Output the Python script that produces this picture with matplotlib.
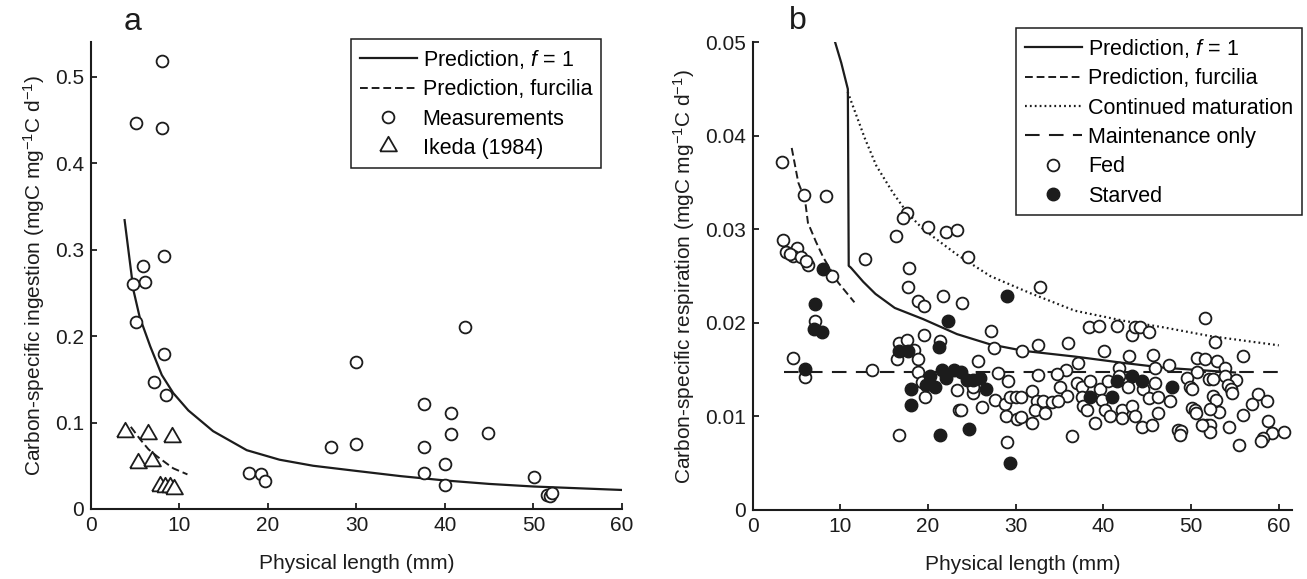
import matplotlib
matplotlib.use('Agg')
import matplotlib.pyplot as plt

plt.rcParams['font.family'] = ['Liberation Sans', 'DejaVu Sans']
plt.rcParams['mathtext.fontset'] = 'custom'
plt.rcParams['mathtext.rm'] = 'Liberation Sans'
plt.rcParams['mathtext.it'] = 'Liberation Sans:italic'
plt.rcParams['mathtext.bf'] = 'Liberation Sans:bold'

INK = '#1c1c1c'

# --- panel a: ingestion ---
pred_a_x = [3.8, 4.8, 5.5, 6.7, 8.0, 9.3, 11.0, 13.8, 17.6, 21.3, 25.1, 30.0, 35.0, 40.0, 45.0, 50.0, 55.0, 60.0]
pred_a_y = [0.334, 0.253, 0.222, 0.188, 0.155, 0.134, 0.114, 0.090, 0.068, 0.057, 0.050, 0.044, 0.038, 0.033, 0.029, 0.026, 0.024, 0.022]

furc_a_x = [4.5, 5.6, 6.5, 7.45, 8.5, 9.3, 10.9]
furc_a_y = [0.095, 0.080, 0.069, 0.061, 0.053, 0.047, 0.040]

meas_x = [8.0, 5.1, 8.0, 8.2, 5.9, 6.06, 4.75, 5.1, 8.2, 7.15, 8.5, 17.9, 19.2, 19.65,
          27.1, 30.0, 30.0, 37.6, 37.6, 37.6, 39.95, 39.95, 40.7, 40.7, 42.25, 44.9,
          50.05, 51.5, 51.9, 52.1]
meas_y = [0.518, 0.446, 0.440, 0.293, 0.281, 0.263, 0.260, 0.216, 0.179, 0.147, 0.132, 0.042, 0.040, 0.032,
          0.072, 0.075, 0.170, 0.1215, 0.072, 0.042, 0.052, 0.028, 0.1115, 0.087, 0.211, 0.088,
          0.0367, 0.0166, 0.0154, 0.0182]

ikeda_x = [3.8, 6.4, 9.2, 5.27, 6.9, 7.8, 8.4, 8.9, 9.4]
ikeda_y = [0.089, 0.087, 0.083, 0.053, 0.056, 0.027, 0.025, 0.025, 0.023]

# --- panel b: respiration ---
pred_b_x = [9.4, 10.1, 10.85, 10.95, 11.2, 12.6, 14.0, 16.2, 19.45, 23.3, 27.1, 31.0, 36.75, 42.45, 47.0, 50.2, 55.0]
pred_b_y = [0.0500, 0.0478, 0.0450, 0.0261, 0.0259, 0.0244, 0.0231, 0.0216, 0.0204, 0.0188, 0.0177, 0.0170, 0.0164, 0.0157, 0.0152, 0.0150, 0.0147]

furc_b_x = [4.45, 5.2, 5.96, 6.3, 7.2, 8.05, 9.76, 11.6]
furc_b_y = [0.0387, 0.0350, 0.0332, 0.0307, 0.0287, 0.0270, 0.0243, 0.0222]

matur_x = [10.83, 12.8, 14.1, 16.0, 17.6, 19.45, 23.3, 27.1, 31.6, 36.75, 42.45, 47.0, 52.1, 60.0]
matur_y = [0.0447, 0.0397, 0.0368, 0.0339, 0.0318, 0.0300, 0.0273, 0.0250, 0.0232, 0.0213, 0.0202, 0.0195, 0.0186, 0.0176]

maint_x = [3.6, 60.0]
maint_y = [0.0147, 0.0147]

fed_x = [3.3, 5.9, 8.36, 3.5, 3.76, 5.1, 4.6, 4.25, 5.5, 6.3, 6.1, 9.1, 12.8, 7.1, 4.6, 6.0, 13.6,
         17.56, 17.1, 16.34, 20.03, 22.1, 23.3, 24.6, 17.8, 17.75, 18.9, 19.5, 21.7, 23.9, 19.5,
         16.7, 17.6, 18.4, 21.4, 27.2, 27.5, 30.7, 16.5, 18.9, 25.7, 18.9, 19.3, 19.65, 23.3,
         25.1, 25.1, 28.0, 29.15, 27.6, 28.8, 29.3, 30.0, 30.55, 28.9, 30.1, 30.6, 23.5, 23.8,
         26.1, 16.7, 29.0,
         32.8, 38.3, 39.5, 41.6, 43.2, 43.6, 44.2, 45.2, 32.5, 36.0, 40.1, 42.9, 45.7, 37.05,
         35.7, 32.5, 34.7, 41.8, 45.9, 31.8, 35.0, 35.8, 37.0, 37.5, 38.5, 39.6, 39.8, 40.2,
         40.55, 37.5, 32.4, 33.1, 34.1, 34.85, 32.2, 33.3, 31.8, 37.7, 38.1, 39.0, 40.7, 42.1,
         42.1, 43.2, 43.6, 44.35, 45.5, 46.25, 44.5, 45.2, 45.9, 46.25, 36.4, 41.8, 42.8,
         51.6, 52.7, 55.9, 47.5, 50.7, 51.6, 52.9, 53.85, 50.7, 49.5, 52.0, 52.5, 53.85, 55.1,
         49.9, 50.05, 54.2, 54.6, 54.7, 47.6, 52.5, 52.8, 53.2, 52.1, 50.05, 50.4, 50.6, 57.65,
         58.6, 56.9, 55.9, 51.4, 51.76, 52.1, 52.2, 51.2, 48.5, 48.9, 48.7, 54.35, 58.8, 59.2,
         58.2, 58.0, 60.6, 55.5]
fed_y = [0.0372, 0.0337, 0.0336, 0.0289, 0.0276, 0.0280, 0.0272, 0.0274, 0.0270, 0.0262, 0.0266, 0.0250, 0.0268, 0.0202, 0.0162, 0.0142, 0.0150,
         0.0317, 0.0312, 0.0293, 0.0302, 0.0297, 0.0299, 0.0270, 0.0259, 0.0238, 0.0223, 0.0218, 0.0229, 0.0221, 0.0187,
         0.0178, 0.0182, 0.0171, 0.0181, 0.0191, 0.0173, 0.0170, 0.0161, 0.0161, 0.0159, 0.0147, 0.0137, 0.0121, 0.0128,
         0.0125, 0.0132, 0.0146, 0.0138, 0.0118, 0.0113, 0.0121, 0.0121, 0.0121, 0.0100, 0.0097, 0.0099, 0.0107, 0.0107,
         0.0110, 0.0080, 0.0073,
         0.0238, 0.0196, 0.0197, 0.0197, 0.0187, 0.0196, 0.0196, 0.0190, 0.0176, 0.0179, 0.0170, 0.0165, 0.0166, 0.0157,
         0.0150, 0.0144, 0.0145, 0.0152, 0.0152, 0.0127, 0.0131, 0.0122, 0.0136, 0.0132, 0.0138, 0.0129, 0.0118, 0.0107,
         0.0138, 0.0121, 0.0116, 0.0116, 0.0115, 0.0116, 0.0107, 0.0104, 0.0093, 0.0111, 0.0107, 0.0093, 0.0100, 0.0107,
         0.0098, 0.0111, 0.0100, 0.0089, 0.0091, 0.0104, 0.0129, 0.0120, 0.0136, 0.0121, 0.0079, 0.0143, 0.0132,
         0.0205, 0.0180, 0.0165, 0.0155, 0.0162, 0.0161, 0.0159, 0.0152, 0.0147, 0.0141, 0.0140, 0.0140, 0.0143, 0.0139,
         0.0132, 0.0129, 0.0134, 0.0129, 0.0125, 0.0116, 0.0122, 0.0118, 0.0105, 0.0108, 0.0109, 0.0107, 0.0104, 0.0124,
         0.0116, 0.0113, 0.0102, 0.0091, 0.0091, 0.0091, 0.0083, 0.0091, 0.0086, 0.0084, 0.0080, 0.0089, 0.0095, 0.0082,
         0.0077, 0.0074, 0.0083, 0.0070]

starved_x = [8.0, 7.1, 6.96, 7.9, 5.96, 29.0, 22.3, 16.7, 17.75, 21.2, 18.1, 18.1,
             19.8, 20.2, 20.8, 21.55, 22.1, 22.9, 23.8, 24.4, 25.15, 25.9, 26.6,
             21.4, 24.7, 29.3, 38.5, 41.0, 41.5, 43.2, 44.4, 47.8]
starved_y = [0.0258, 0.0220, 0.0194, 0.0190, 0.0151, 0.0229, 0.0202, 0.0170, 0.0170, 0.0174, 0.0129, 0.0112,
             0.0134, 0.0143, 0.0132, 0.0150, 0.0141, 0.0150, 0.0148, 0.0139, 0.0139, 0.0141, 0.0129,
             0.0080, 0.0087, 0.0050, 0.0121, 0.0121, 0.0138, 0.0143, 0.0138, 0.0132]

x_ticks = [0, 10, 20, 30, 40, 50, 60]
a_ticks = [0, 0.1, 0.2, 0.3, 0.4, 0.5]
a_tick_labels = ['0', '0.1', '0.2', '0.3', '0.4', '0.5']
b_ticks = [0, 0.01, 0.02, 0.03, 0.04, 0.05]
b_tick_labels = ['0', '0.01', '0.02', '0.03', '0.04', '0.05']

FS = 15
FS_LEG = 15.5
ring = dict(linestyle='none', marker='o', markersize=8.5, markerfacecolor='white',
            markeredgecolor=INK, markeredgewidth=1.3)
# equilateral triangle, closed
tri = [(-1.0, -0.577), (1.0, -0.577), (0.0, 1.155), (-1.0, -0.577)]


def styl_osi(ax):
    for s in ('top', 'right'):
        ax.spines[s].set_visible(False)
    for s in ('left', 'bottom'):
        ax.spines[s].set_linewidth(1.5)
        ax.spines[s].set_color(INK)
    ax.tick_params(direction='in', length=4.5, width=1.3, labelsize=FS, colors=INK, pad=5)
    ax.set_xticks(x_ticks)
    ax.set_xlabel('Physical length (mm)', fontsize=FS, color=INK, labelpad=14)


def legenda(ax, anchor):
    leg = ax.legend(loc='upper right', bbox_to_anchor=anchor, borderaxespad=0,
                    frameon=True, fancybox=False, edgecolor=INK, framealpha=1,
                    fontsize=FS_LEG, handlelength=2.65, handletextpad=0.28,
                    labelspacing=0.39, borderpad=0.4, numpoints=1)
    leg.get_frame().set_linewidth(1.1)
    return leg


fig = plt.figure(figsize=(13.07, 5.79), dpi=100)
ax_a = fig.add_axes([0.0696, 0.1209, 0.4063, 0.8066])
ax_b = fig.add_axes([0.5759, 0.1192, 0.4126, 0.8078])

# panel a
ax_a.plot(pred_a_x, pred_a_y, color=INK, lw=1.6, label='Prediction, $f$ = 1')
ax_a.plot(furc_a_x, furc_a_y, color=INK, lw=1.4, linestyle=(0, (4, 2)), label='Prediction, furcilia')
ax_a.plot(meas_x, meas_y, label='Measurements', **ring)
ax_a.plot(ikeda_x, ikeda_y, linestyle='none', marker=tri, markersize=14, markerfacecolor='white',
          markeredgecolor=INK, markeredgewidth=1.3, label='Ikeda (1984)')
ax_a.set_xlim(0, 60)
ax_a.set_ylim(0, 0.54)
styl_osi(ax_a)
ax_a.set_yticks(a_ticks)
ax_a.set_yticklabels(a_tick_labels)
ax_a.set_ylabel('Carbon-specific ingestion (mgC mg$^{-1}$C d$^{-1}$)', fontsize=FS, color=INK, labelpad=6)
legenda(ax_a, (0.960, 1.006))

# panel b
ax_b.plot(pred_b_x, pred_b_y, color=INK, lw=1.6, label='Prediction, $f$ = 1')
ax_b.plot(furc_b_x, furc_b_y, color=INK, lw=1.4, linestyle=(0, (4, 2)), label='Prediction, furcilia')
ax_b.plot(matur_x, matur_y, color=INK, lw=1.6, linestyle=(0, (0.8, 1.4)), label='Continued maturation')
ax_b.plot(maint_x, maint_y, color=INK, lw=1.5, linestyle=(0, (7, 4.5)), label='Maintenance only')
ax_b.plot(fed_x, fed_y, label='Fed', **ring)
ax_b.plot(starved_x, starved_y, linestyle='none', marker='o', markersize=9.0, markerfacecolor=INK,
          markeredgecolor=INK, markeredgewidth=1.0, label='Starved')
ax_b.set_xlim(0, 61.5)
ax_b.set_ylim(0, 0.05)
styl_osi(ax_b)
ax_b.set_yticks(b_ticks)
ax_b.set_yticklabels(b_tick_labels)
ax_b.set_ylabel('Carbon-specific respiration (mgC mg$^{-1}$C d$^{-1}$)', fontsize=FS, color=INK, labelpad=6)
legenda(ax_b, (1.018, 1.030))

fig.text(133 / 1307, 1 - 30 / 579, 'a', fontsize=23, ha='center', va='baseline', color=INK)
fig.text(798 / 1307, 1 - 29 / 579, 'b', fontsize=23, ha='center', va='baseline', color=INK)

fig.savefig('out.png', dpi=100)
